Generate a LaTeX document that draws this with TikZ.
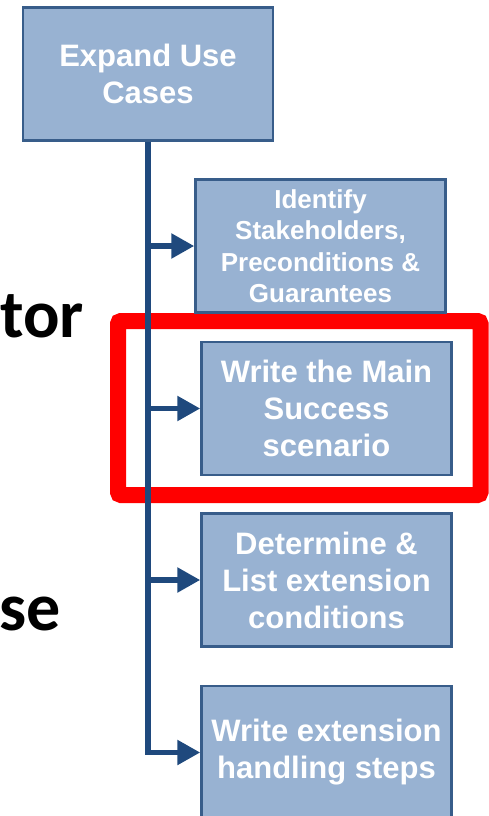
\documentclass[tikz,border=0pt]{standalone}
\usepackage{fontspec}
\setmainfont{Liberation Sans}
\newfontfamily\slidefont{Carlito}
\usetikzlibrary{arrows.meta}
\definecolor{boxfill}{RGB}{152,178,210}
\definecolor{boxline}{RGB}{56,93,138}
\definecolor{flowline}{RGB}{31,73,125}
\tikzset{
	stepbox/.style={draw=boxline, fill=boxfill, line width=2.5pt, minimum width=250pt, minimum height=133pt, inner sep=0pt, align=center, text=white, font=\bfseries\fontsize{31}{37}\selectfont},
	feed/.style={draw=flowline, line width=5.5pt, -{Triangle[length=23pt,width=24pt]}},
}
\begin{document}
\begin{tikzpicture}[x=1pt,y=-1pt]
		\useasboundingbox (0,0) rectangle (489,816);
		% highlight round the current step
		\draw[red, line width=16pt, rounded corners=3pt] (118,321) rectangle (480.5,495);
		
		\node (expand) [stepbox] at (148,74) {Expand Use\\Cases};
		\node (identify) [stepbox, font=\bfseries\fontsize{26}{31.5}\selectfont] at (320.5,246) {Identify\\Stakeholders,\\Preconditions \&\\Guarantees};
		\node (mainsuccess) [stepbox] at (326.5,408.5) {Write the Main\\Success\\scenario};
		\node (extensions) [stepbox] at (326.5,580) {Determine \&\\List extension\\conditions};
		\node (handling) [stepbox] at (326.5,752.5) {Write extension\\handling steps};
		
		\draw[feed] (expand.south) |- (handling.west);
		\draw[feed] (expand.south |- identify.west) -- (identify.west);
		\draw[feed] (expand.south |- mainsuccess.west) -- (mainsuccess.west);
		\draw[feed] (expand.south |- extensions.west) -- (extensions.west);
		
		% words left over from the slide text
		\node (tor) [anchor=base east, inner sep=0pt, font=\slidefont\bfseries\fontsize{68}{68}\selectfont] at (84,337) {tor};
		\node (se) [anchor=base east, inner sep=0pt, font=\slidefont\bfseries\fontsize{68}{68}\selectfont] at (61,630) {se};
	\end{tikzpicture}
\end{document}
